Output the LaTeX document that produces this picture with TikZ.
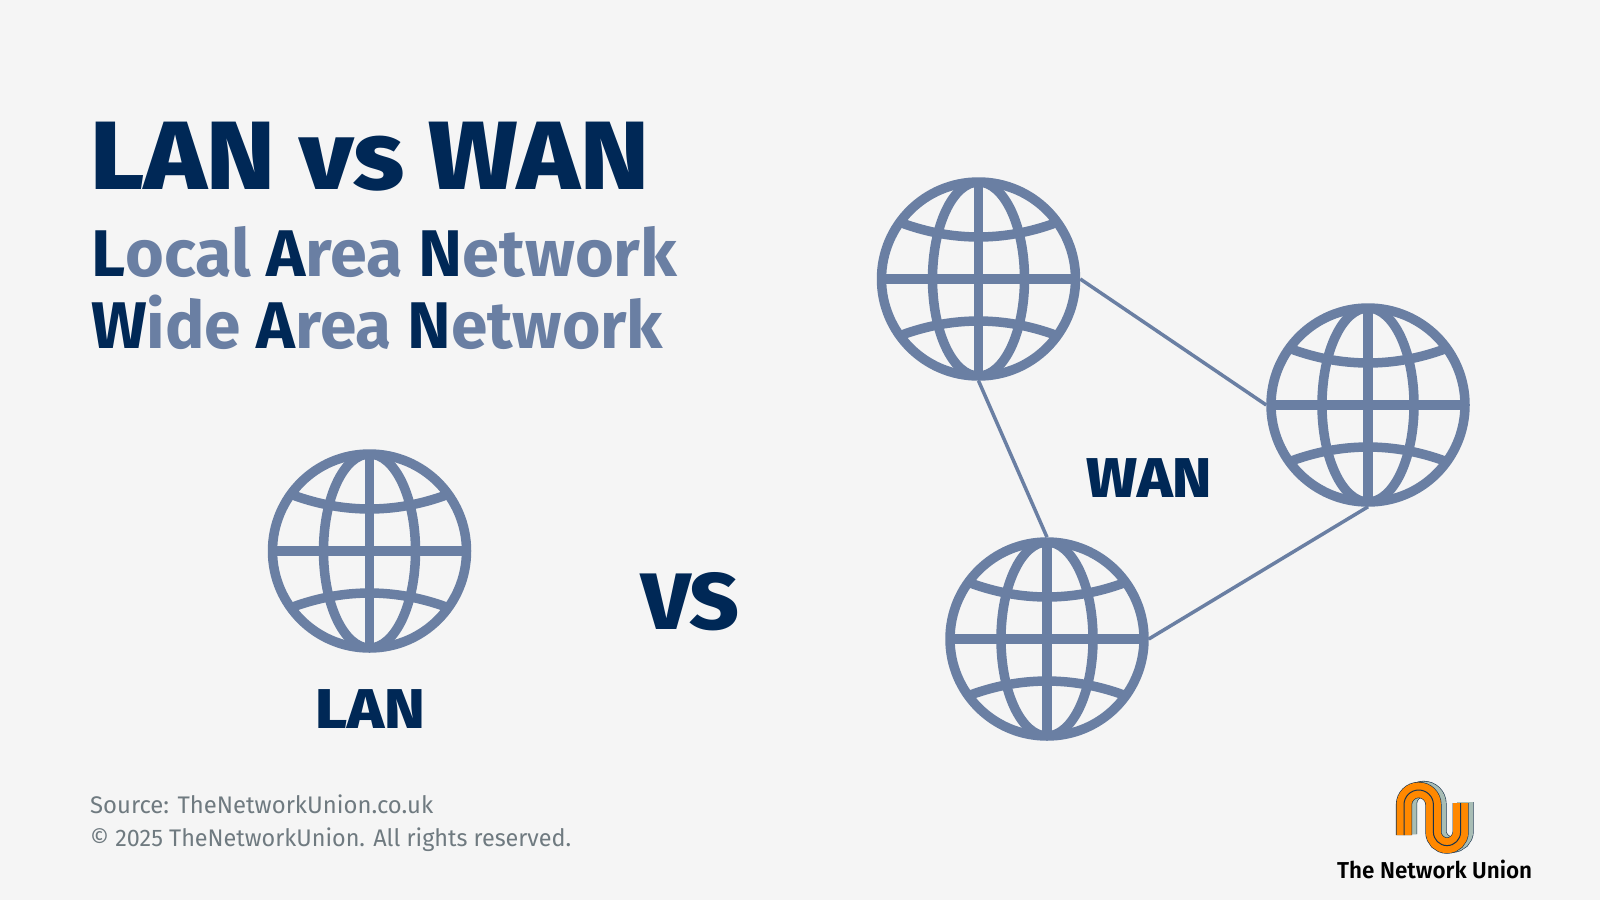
\documentclass[tikz,border=0pt]{standalone}
\usepackage{fontspec}
\setmainfont{Fira Sans}
\newfontfamily\heavyfont{Fira Sans ExtraBold}
\newfontfamily\semifont{Fira Sans SemiBold}
\definecolor{page bg}{HTML}{F5F5F5}
\definecolor{navy}{HTML}{002856}
\definecolor{slate}{HTML}{6A7FA3}
\definecolor{foot grey}{HTML}{6F7A80}
\definecolor{ribbon}{HTML}{FF8800}
\definecolor{sage}{HTML}{A8BDB5}
\definecolor{ribbon edge}{HTML}{17324D}
\newcommand{\fitw}[2]{\resizebox{#1pt}{\height}{#2}}
\newcommand{\nv}[1]{\textcolor{navy}{#1}}
\def\ribbonpath{(1404,835) -- (1404,804.7) arc[start angle=180,end angle=360,radius=14.7] -- (1433.4,832) arc[start angle=180,end angle=0,radius=13.6] -- (1460.6,803)}
\tikzset{x=1pt,y=-1pt,
	globe/.style={circle, draw=slate, line width=9.5pt, minimum size=194pt, inner sep=0pt,
		path picture={
			\begin{scope}[shift={(path picture bounding box.center)}, slate, line width=9.5pt]
				\draw (-97,0) -- (97,0);
				\draw (0,-97) -- (0,97);
				\draw (0,0) ellipse (46pt and 97pt);
				\draw (-82,-58) .. controls (-28,-36.7) and (28,-36.7) .. (82,-58);
				\draw (-82,58) .. controls (-28,36.7) and (28,36.7) .. (82,58);
			\end{scope}
		}},
	link/.style={draw=slate, line width=3.5pt},
	title/.style={anchor=base west, inner sep=0pt, text=navy},
	sub/.style={anchor=base west, inner sep=0pt, text=slate},
	tag/.style={anchor=base, inner sep=0pt, text=navy},
	foot/.style={anchor=base west, inner sep=0pt, text=foot grey}}
\begin{document}
\begin{tikzpicture}
	\fill[page bg] (0,0) rectangle (1600,900);
	\useasboundingbox (0,0) rectangle (1600,900);
	% headings
	\node[title] (head) at (90,189) {\fitw{559}{\fontsize{97}{97}\heavyfont LAN vs WAN}};
	\node[sub] (lan long) at (91,276) {\fitw{586}{\fontsize{66}{66}\bfseries \nv{L}ocal \nv{A}rea \nv{N}etwork}};
	\node[sub] (wan long) at (91,348) {\fitw{572}{\fontsize{66}{66}\bfseries \nv{W}ide \nv{A}rea \nv{N}etwork}};
	% globes
	\node[globe] (lan) at (369.5,551) {};
	\node[globe] (wan a) at (978.5,279) {};
	\node[globe] (wan b) at (1368,405) {};
	\node[globe] (wan c) at (1047,639) {};
	\draw[link] (wan a.east) -- (wan b.west);
	\draw[link] (wan a.south) -- (wan c.north);
	\draw[link] (wan c.east) -- (wan b.south);
	\node[tag] (lan tag) at (370,728.5) {\fitw{110}{\fontsize{56}{56}\heavyfont LAN}};
	\node[tag] (wan tag) at (1149,497) {\fitw{126}{\fontsize{56}{56}\heavyfont WAN}};
	\node[tag] (vs tag) at (690.5,629) {\fitw{98}{\fontsize{80}{80}\heavyfont VS}};
	% footer
	\node[foot] (source) at (90,813) {\fitw{343}{\fontsize{24}{24}\selectfont Source: TheNetworkUnion.co.uk}};
	\node[foot] (rights) at (90,846) {\fitw{481}{\fontsize{24}{24}\selectfont © 2025 TheNetworkUnion. All rights reserved.}};
	% logo
	\draw[ribbon edge, line width=16.2pt, shift={(5,-1)}] \ribbonpath;
	\draw[sage, line width=15pt, shift={(5,-1)}] \ribbonpath;
	\draw[ribbon edge, line width=16.2pt] \ribbonpath;
	\draw[ribbon, line width=15pt] \ribbonpath;
	\draw[ribbon edge, line width=1pt] \ribbonpath;
	\node[anchor=base west, inner sep=0pt] (brand) at (1337,878) {\fitw{195}{\fontsize{23}{23}\semifont The Network Union}};
\end{tikzpicture}
\end{document}
